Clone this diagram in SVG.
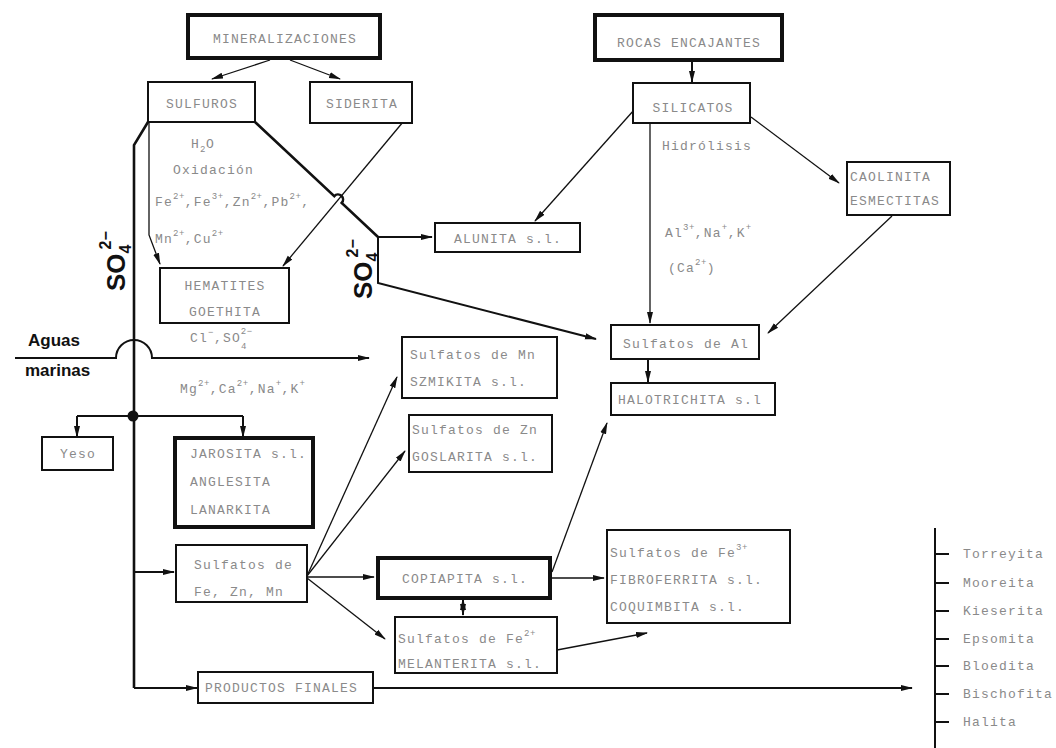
<svg xmlns="http://www.w3.org/2000/svg" width="1056" height="748" viewBox="0 0 1056 748">
<defs>
<marker id="ah" viewBox="0 0 12 8" refX="11" refY="4" markerWidth="12" markerHeight="8" markerUnits="userSpaceOnUse" orient="auto-start-reverse">
<path d="M0,1 L12,4 L0,7 z" fill="#111"/>
</marker>
<style>
.box{fill:#fff;stroke:#111;stroke-width:2}
.thk{fill:#fff;stroke:#111;stroke-width:4}
.t{font-family:"Liberation Mono","DejaVu Sans Mono",monospace;font-size:13px;letter-spacing:1.2px;fill:#8a8a8a}
.c{text-anchor:middle}
.s{font-size:9px;letter-spacing:0.5px}
.b{font-family:"Liberation Sans",Arial,sans-serif;font-weight:bold;fill:#111}
.ln{fill:none;stroke:#111;stroke-width:1.3}
.lm{fill:none;stroke:#111;stroke-width:2}
.lt{fill:none;stroke:#111;stroke-width:2.6}
</style>
</defs>
<rect width="1056" height="748" fill="#fff"/>

<g id="connectors">
<path class="ln" d="M270,60 L212,79" marker-end="url(#ah)"/>
<path class="ln" d="M290,60 L340,79" marker-end="url(#ah)"/>
<path class="lm" d="M692,60 L692,82" marker-end="url(#ah)"/>
<path class="ln" d="M634,110 L535,221" marker-end="url(#ah)"/>
<path class="ln" d="M650,123 L650,323" marker-end="url(#ah)"/>
<path class="ln" d="M751,117 L839,183" marker-end="url(#ah)"/>
<path class="ln" d="M892,216 L768,333" marker-end="url(#ah)"/>
<path class="lm" d="M648,360 L648,382" marker-end="url(#ah)"/>
<path class="ln" d="M403,122 L283,266" marker-end="url(#ah)"/>
<path class="ln" d="M149,122 L149,235 L160,264" marker-end="url(#ah)"/>
<path class="lt" d="M255,122 L334.3,196.1 A5,5 0 0 1 341.7,202.9 L378,237"/>
<path class="lm" d="M378,237 L432,237" marker-end="url(#ah)"/>
<path class="lm" d="M378,237 L378,283 L596,339" marker-end="url(#ah)"/>
<path class="lt" d="M148,122 L134,145 L134,688"/>
<path class="lm" d="M134,688 L197,688" marker-end="url(#ah)"/>
<path class="lm" d="M15,358 L116,358 A18,18 0 0 1 152,358 L369,358" marker-end="url(#ah)"/>
<circle cx="133" cy="416" r="5.5" fill="#111"/>
<path class="lm" d="M77,416 L243,416"/>
<path class="lm" d="M77,416 L77,437" marker-end="url(#ah)"/>
<path class="lm" d="M243,416 L243,437" marker-end="url(#ah)"/>
<path class="lm" d="M134,572 L174,572" marker-end="url(#ah)"/>
<path class="ln" d="M307,576 L397,377" marker-end="url(#ah)"/>
<path class="ln" d="M307,576 L405,451" marker-end="url(#ah)"/>
<path class="ln" d="M307,577 L374,577" marker-end="url(#ah)"/>
<path class="ln" d="M307,578 L385,639" marker-end="url(#ah)"/>
<path class="ln" d="M552,572 L607,423" marker-end="url(#ah)"/>
<path class="ln" d="M550,578 L604,578" marker-end="url(#ah)"/>
<path class="ln" d="M557,650 L647,633" marker-end="url(#ah)"/>
<path class="lm" d="M463,599 L463,615" marker-start="url(#ah)" marker-end="url(#ah)"/>
<path class="lm" d="M373,688 L912,688" marker-end="url(#ah)"/>
<path class="lm" d="M935,528 L935,748"/>
<path class="lm" d="M935,554 H949 M935,583 H949 M935,611 H949 M935,639 H949 M935,666 H949 M935,694 H949 M935,722 H949"/>
</g>

<g id="mineralizaciones"><rect class="thk" x="188" y="15" width="192" height="43"/><text class="t c" x="285" y="43">MINERALIZACIONES</text></g>
<g id="rocas"><rect class="thk" x="595" y="15" width="187" height="45"/><text class="t c" x="689" y="47">ROCAS ENCAJANTES</text></g>
<g id="sulfuros"><rect class="box" x="148" y="82" width="107" height="40"/><text class="t c" x="202" y="108">SULFUROS</text></g>
<g id="siderita"><rect class="box" x="310" y="82" width="102" height="41"/><text class="t c" x="362" y="108">SIDERITA</text></g>
<g id="silicatos"><rect class="box" x="633" y="83" width="117" height="40"/><text class="t c" x="693" y="112">SILICATOS</text></g>
<g id="caolinita"><rect class="box" x="847" y="162" width="103" height="53"/><text class="t" x="850" y="181">CAOLINITA</text><text class="t" x="850" y="205">ESMECTITAS</text></g>
<g id="hematites"><rect class="box" x="160" y="268" width="129" height="55"/><text class="t c" x="225" y="290">HEMATITES</text><text class="t c" x="225" y="316">GOETHITA</text></g>
<g id="alunita"><rect class="box" x="435" y="223" width="145" height="29"/><text class="t c" x="508" y="243">ALUNITA s.l.</text></g>
<g id="sulfatos-al"><rect class="box" x="611" y="325" width="148" height="34"/><text class="t c" x="686" y="348">Sulfatos de Al</text></g>
<g id="halotrichita"><rect class="box" x="611" y="383" width="164" height="32"/><text class="t" x="618" y="404">HALOTRICHITA s.l</text></g>
<g id="sulfatos-mn"><rect class="box" x="402" y="337" width="155" height="61"/><text class="t" x="410" y="359">Sulfatos de Mn</text><text class="t" x="410" y="386">SZMIKITA s.l.</text></g>
<g id="sulfatos-zn"><rect class="box" x="409" y="415" width="143" height="57"/><text class="t" x="412" y="434">Sulfatos de Zn</text><text class="t" x="412" y="461">GOSLARITA s.l.</text></g>
<g id="yeso"><rect class="box" x="42" y="437" width="71" height="33"/><text class="t c" x="78" y="458">Yeso</text></g>
<g id="jarosita"><rect class="thk" x="175" y="438" width="138" height="89"/><text class="t" x="190" y="458">JAROSITA s.l.</text><text class="t" x="190" y="486">ANGLESITA</text><text class="t" x="190" y="514">LANARKITA</text></g>
<g id="sulfatos-fezn"><rect class="box" x="176" y="545" width="131" height="57"/><text class="t" x="194" y="569">Sulfatos de</text><text class="t" x="194" y="596">Fe, Zn, Mn</text></g>
<g id="copiapita"><rect class="thk" x="378" y="558" width="172" height="40"/><text class="t c" x="465" y="583">COPIAPITA s.l.</text></g>
<g id="sulfatos-fe2"><rect class="box" x="395" y="617" width="162" height="56"/><text class="t" x="398" y="643">Sulfatos de Fe<tspan class="s" dy="-7">2+</tspan></text><text class="t" x="398" y="668">MELANTERITA s.l.</text></g>
<g id="sulfatos-fe3"><rect class="box" x="607" y="530" width="183" height="93"/><text class="t" x="610" y="557">Sulfatos de Fe<tspan class="s" dy="-7">3+</tspan></text><text class="t" x="610" y="584">FIBROFERRITA s.l.</text><text class="t" x="610" y="611">COQUIMBITA s.l.</text></g>
<g id="productos"><rect class="box" x="198" y="672" width="175" height="31"/><text class="t" x="205" y="692">PRODUCTOS FINALES</text></g>

<g id="labels">
<text class="t" x="191" y="148">H<tspan class="s" dy="4">2</tspan><tspan dy="-4">O</tspan></text>
<text class="t" x="173" y="174">Oxidación</text>
<text class="t" x="155" y="206">Fe<tspan class="s" dy="-7">2+</tspan><tspan dy="7">,Fe</tspan><tspan class="s" dy="-7">3+</tspan><tspan dy="7">,Zn</tspan><tspan class="s" dy="-7">2+</tspan><tspan dy="7">,Pb</tspan><tspan class="s" dy="-7">2+</tspan><tspan dy="7">,</tspan></text>
<text class="t" x="155" y="243">Mn<tspan class="s" dy="-7">2+</tspan><tspan dy="7">,Cu</tspan><tspan class="s" dy="-7">2+</tspan></text>
<text class="t" x="662" y="150">Hidrólisis</text>
<text class="t" x="665" y="237">Al<tspan class="s" dy="-7">3+</tspan><tspan dy="7">,Na</tspan><tspan class="s" dy="-7">+</tspan><tspan dy="7">,K</tspan><tspan class="s" dy="-7">+</tspan></text>
<text class="t" x="668" y="272">(Ca<tspan class="s" dy="-7">2+</tspan><tspan dy="7">)</tspan></text>
<text class="t" x="190" y="342">Cl<tspan class="s" dy="-7">−</tspan><tspan dy="7">,SO</tspan><tspan class="s" dy="7">4</tspan><tspan class="s" dx="-6" dy="-15">2−</tspan></text>
<text class="t" x="180" y="393">Mg<tspan class="s" dy="-7">2+</tspan><tspan dy="7">,Ca</tspan><tspan class="s" dy="-7">2+</tspan><tspan dy="7">,Na</tspan><tspan class="s" dy="-7">+</tspan><tspan dy="7">,K</tspan><tspan class="s" dy="-7">+</tspan></text>
<text class="b" x="28" y="346" font-size="17">Aguas</text>
<text class="b" x="25" y="376" font-size="17">marinas</text>
<text class="b" font-size="26" transform="translate(125,291) rotate(-90)">SO<tspan font-size="16" dy="6">4</tspan><tspan font-size="16" dx="-5" dy="-20">2−</tspan></text>
<text class="b" font-size="26" transform="translate(372,299) rotate(-90)">SO<tspan font-size="16" dy="6">4</tspan><tspan font-size="16" dx="-5" dy="-20">2−</tspan></text>
<text class="t" x="963" y="558">Torreyita</text>
<text class="t" x="963" y="587">Mooreita</text>
<text class="t" x="963" y="615">Kieserita</text>
<text class="t" x="963" y="643">Epsomita</text>
<text class="t" x="963" y="670">Bloedita</text>
<text class="t" x="963" y="698">Bischofita</text>
<text class="t" x="963" y="726">Halita</text>
</g>
</svg>
